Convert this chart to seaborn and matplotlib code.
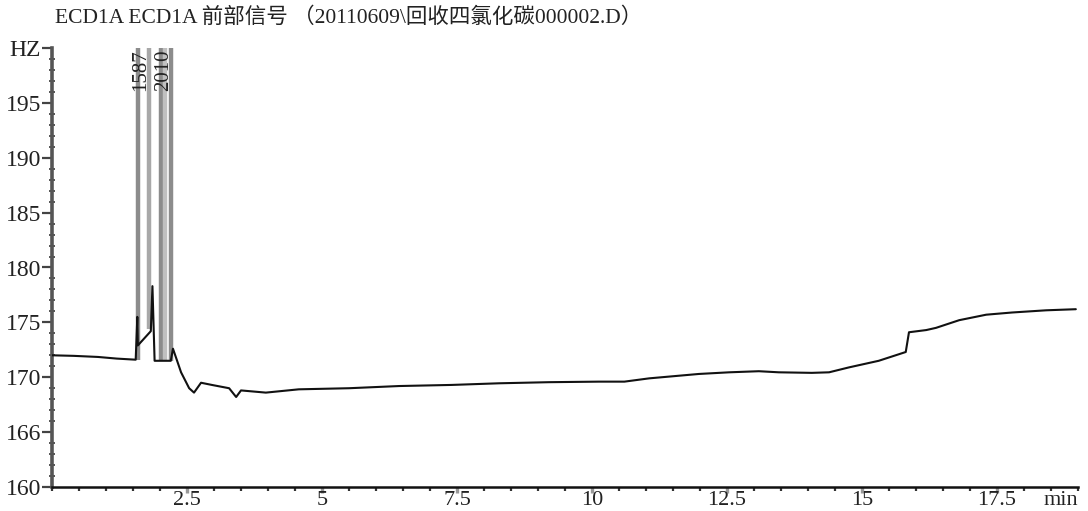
import matplotlib
matplotlib.use("Agg")
import matplotlib.pyplot as plt
from matplotlib.ticker import MultipleLocator
import seaborn as sns
import pandas as pd

# Detector trace (retention time in min, signal in HZ)
trace_rt = [0.00, 0.40, 0.85, 1.20, 1.55, 1.58, 1.59, 1.83, 1.86, 1.90,
            2.20, 2.24, 2.31, 2.39, 2.54, 2.63, 2.76, 2.96, 3.28, 3.41,
            3.50, 3.96, 4.57, 5.50, 6.43, 7.40, 8.28, 9.20, 10.13, 10.60,
            11.06, 11.98, 12.54, 13.09, 13.46, 14.07, 14.39, 14.76, 15.31, 15.81,
            15.87, 16.19, 16.37, 16.80, 17.30, 17.78, 18.41, 18.96]
trace_hz = [172.0, 171.95, 171.85, 171.7, 171.6, 175.5, 172.9, 174.2, 178.3, 171.5,
            171.5, 172.6, 171.6, 170.45, 169.0, 168.6, 169.5, 169.3, 169.0, 168.2,
            168.8, 168.6, 168.9, 169.0, 169.2, 169.3, 169.45, 169.55, 169.6, 169.6,
            169.9, 170.3, 170.45, 170.55, 170.45, 170.4, 170.45, 170.9, 171.5, 172.3,
            174.1, 174.3, 174.5, 175.2, 175.7, 175.9, 176.1, 176.2]

# Off-scale peaks: retention time, baseline at the foot, apex (beyond the range)
peak_rt = [1.587, 1.80, 2.010, 2.09, 2.20]
peak_base = [171.6, 174.4, 171.5, 171.5, 171.5]
peak_apex = [260.0, 260.0, 260.0, 260.0, 260.0]
peak_shade = ["#8c8c8c", "#a8a8a8", "#8c8c8c", "#c0c0c0", "#8c8c8c"]

# Peak annotations
label_rt = [1.587, 2.010]
label_text = ["1587", "2010"]

# Axis ticks
y_ticks = [160, 165, 170, 175, 180, 185, 190, 195, 200]
y_tick_labels = ["160", "166", "170", "175", "180", "185", "190", "195", "HZ"]
x_ticks = [2.5, 5, 7.5, 10, 12.5, 15, 17.5]
x_tick_labels = ["2.5", "5", "7.5", "10", "12.5", "15", "17.5"]

title = "ECD1A ECD1A 前部信号 （20110609\\回收四氯化碳000002.D）"

sns.set_theme(style="white")
plt.rcParams["font.family"] = ["Liberation Serif", "Noto Sans CJK SC", "DejaVu Sans"]

fig = plt.figure(figsize=(10.88, 5.11), dpi=100)
fig.patch.set_facecolor("white")
ax = fig.add_axes([52 / 1088, 24 / 511, 1026 / 1088, 439 / 511])
ax.set_facecolor("white")

df = pd.DataFrame({"rt": trace_rt, "hz": trace_hz})

# Off-scale peaks as wide grey strokes
for rt, base, apex, shade in zip(peak_rt, peak_base, peak_apex, peak_shade):
    ax.vlines(rt, base, apex, color=shade, lw=3.2, zorder=2)

sns.lineplot(data=df, x="rt", y="hz", ax=ax, color="#111111", lw=1.5,
             estimator=None, sort=False, zorder=3)

for rt, txt in zip(label_rt, label_text):
    ax.text(rt + 0.05, 199.9, txt, rotation=90, ha="center", va="top",
            fontsize=15, color="#222222", zorder=4)

ax.set_xlim(0, 19)
ax.set_ylim(160, 200)
ax.set_xlabel("")
ax.set_ylabel("")

ax.set_yticks(y_ticks)
ax.set_yticklabels(y_tick_labels)
ax.set_xticks(x_ticks)
ax.set_xticklabels(x_tick_labels)
ax.yaxis.set_minor_locator(MultipleLocator(1))
ax.xaxis.set_minor_locator(MultipleLocator(0.5))

ax.tick_params(axis="y", which="major", direction="out", length=7, width=1.6,
               color="#444444", labelsize=17, pad=1, labelcolor="#222222")
ax.tick_params(axis="y", which="minor", direction="inout", length=5, width=1.4,
               color="#555555")
ax.tick_params(axis="x", which="major", direction="out", length=4, width=2.4,
               color="#999999", labelsize=16, pad=-1, labelcolor="#222222")
ax.tick_params(axis="x", which="minor", direction="out", length=3, width=1.6,
               color="#333333")
ax.tick_params(left=True, bottom=True, which="both")

for side in ("top", "right"):
    ax.spines[side].set_visible(False)
ax.spines["left"].set_color("#555555")
ax.spines["left"].set_linewidth(2.6)
ax.spines["bottom"].set_color("#111111")
ax.spines["bottom"].set_linewidth(1.8)

ax.text(1.0, -0.008, "min", transform=ax.transAxes, ha="right", va="top",
        fontsize=16, color="#222222")

fig.text(55 / 1088, 1 - 18 / 511, title, ha="left", va="center",
         fontsize=15.5, color="#222222")

fig.savefig("out.png", dpi=100, facecolor="white")
